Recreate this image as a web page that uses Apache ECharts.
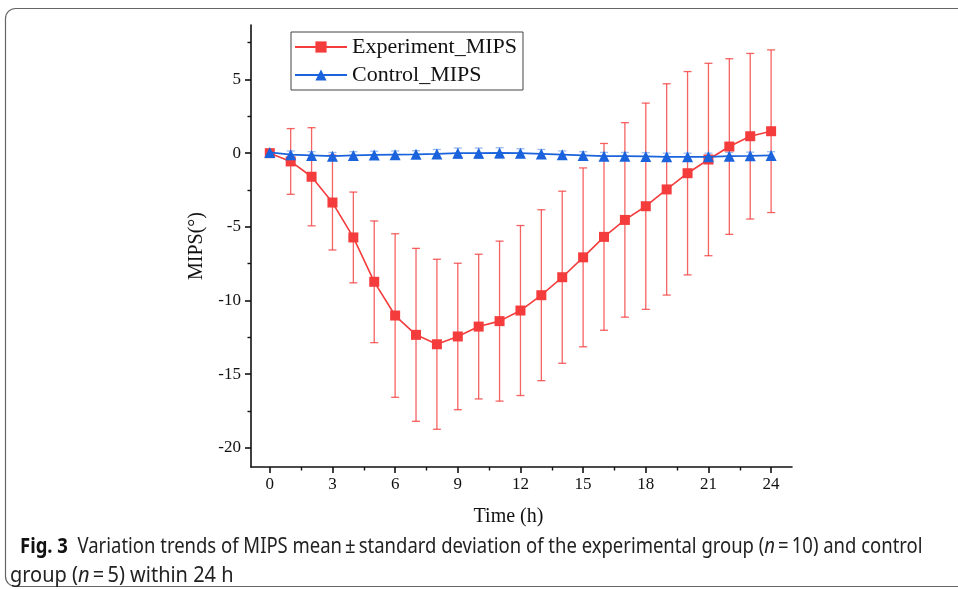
<!DOCTYPE html>
<html>
<head>
<meta charset="utf-8">
<script src="https://cdn.jsdelivr.net/npm/echarts@6/dist/echarts.min.js"></script>
<style>
  html, body { margin: 0; padding: 0; background: #fff; }
  #chart { width: 958px; height: 589px; }
</style>
</head>
<body>
<div id="chart"></div>
<script>
// hours 0..24
var hours = [0, 1, 2, 3, 4, 5, 6, 7, 8, 9, 10, 11, 12, 13, 14, 15, 16, 17, 18, 19, 20, 21, 22, 23, 24];

var expMean = [0.0, -0.56, -1.6, -3.35, -5.72, -8.73, -11.02, -12.33, -12.97, -12.44, -11.77, -11.4,
  -10.68, -9.64, -8.42, -7.07, -5.68, -4.53, -3.6, -2.46, -1.36, -0.43, 0.45, 1.15, 1.49];
var expSD = [0.25, 2.23, 3.33, 3.22, 3.08, 4.13, 5.55, 5.87, 5.77, 4.97, 4.91, 5.43,
  5.77, 5.8, 5.84, 6.07, 6.34, 6.6, 7.0, 7.17, 6.9, 6.53, 5.96, 5.62, 5.52];

var ctrlMean = [0.05, -0.1, -0.15, -0.2, -0.15, -0.12, -0.1, -0.08, -0.05, 0.0, 0.0, 0.02,
  0.0, -0.05, -0.1, -0.15, -0.2, -0.2, -0.22, -0.25, -0.25, -0.25, -0.2, -0.18, -0.15];
var ctrlSD = [0.2, 0.25, 0.25, 0.25, 0.25, 0.25, 0.25, 0.25, 0.3, 0.35, 0.35, 0.35,
  0.3, 0.3, 0.25, 0.25, 0.25, 0.25, 0.25, 0.25, 0.25, 0.25, 0.25, 0.25, 0.25];

var xMajor = [0, 3, 6, 9, 12, 15, 18, 21, 24];
var xMinor = [1.5, 4.5, 7.5, 10.5, 13.5, 16.5, 19.5, 22.5];
var yMajor = [-20, -15, -10, -5, 0, 5];
var yMinor = [-17.5, -12.5, -7.5, -2.5, 2.5, 7.5];

var RED = '#f43c3c';
var RED_BAR = 'rgba(244,60,60,0.8)';
var BLUE = '#1a63dc';
var BLUE_BAR = 'rgba(70,130,230,0.55)';
var SERIF = '"Liberation Serif", "Times New Roman", serif';
var SANS = '"Noto Sans", "Open Sans", sans-serif';

function pairs(m) { return hours.map(function (h, i) { return [h, m[i]]; }); }
function bars(m, s) { return hours.map(function (h, i) { return [h, m[i] - s[i], m[i] + s[i]]; }); }

function errorBar(color, capW) {
  return function (params, api) {
    var x = api.value(0);
    var lo = api.coord([x, api.value(1)]);
    var hi = api.coord([x, api.value(2)]);
    var st = { stroke: color, lineWidth: 1.3 };
    return {
      type: 'group',
      children: [
        { type: 'line', shape: { x1: hi[0], y1: hi[1], x2: lo[0], y2: lo[1] }, style: st },
        { type: 'line', shape: { x1: hi[0] - capW, y1: hi[1], x2: hi[0] + capW, y2: hi[1] }, style: st },
        { type: 'line', shape: { x1: lo[0] - capW, y1: lo[1], x2: lo[0] + capW, y2: lo[1] }, style: st }
      ]
    };
  };
}

var axisLine = { show: true, onZero: false, lineStyle: { color: '#111', width: 1.6 } };
var noLine = { show: false, onZero: false };
var xMin = -0.9, xMax = 25, yMin = -21.3, yMax = 8.7;

var chart = echarts.init(document.getElementById('chart'));
chart.setOption({
  animation: false,
  grid: { left: 251, right: 166, top: 25, bottom: 122 },
  legend: {
    data: ['Experiment_MIPS', 'Control_MIPS'],
    orient: 'vertical',
    left: 291, top: 32,
    padding: [4, 6, 4, 3],
    itemGap: 6,
    itemWidth: 52, itemHeight: 14,
    borderColor: '#444', borderWidth: 1, borderRadius: 0,
    textStyle: { fontFamily: SERIF, fontSize: 22, color: '#111' }
  },
  xAxis: [{
    type: 'value', min: xMin, max: xMax,
    name: 'Time (h)', nameLocation: 'middle', nameGap: 40,
    nameTextStyle: { fontFamily: SERIF, fontSize: 20, color: '#111', padding: [0, 26, 0, 0] },
    axisLine: axisLine,
    axisTick: { show: true, length: 6, lineStyle: { color: '#111', width: 1.6 }, customValues: xMajor },
    axisLabel: { fontFamily: SERIF, fontSize: 17, color: '#111', margin: 9, customValues: xMajor },
    splitLine: { show: false }
  }, {
    type: 'value', min: xMin, max: xMax, position: 'bottom',
    axisLine: noLine,
    axisTick: { show: true, length: 3.5, lineStyle: { color: '#111', width: 1.4 }, customValues: xMinor },
    axisLabel: { show: false },
    splitLine: { show: false }
  }],
  yAxis: [{
    type: 'value', min: yMin, max: yMax,
    name: 'MIPS(°)', nameLocation: 'middle', nameGap: 44,
    nameTextStyle: { fontFamily: SERIF, fontSize: 20, color: '#111' },
    axisLine: axisLine,
    axisTick: { show: true, length: 6, lineStyle: { color: '#111', width: 1.6 }, customValues: yMajor },
    axisLabel: { fontFamily: SERIF, fontSize: 17, color: '#111', margin: 10, customValues: yMajor },
    splitLine: { show: false }
  }, {
    type: 'value', min: yMin, max: yMax, position: 'left',
    axisLine: noLine,
    axisTick: { show: true, length: 3.5, lineStyle: { color: '#111', width: 1.4 }, customValues: yMinor },
    axisLabel: { show: false },
    splitLine: { show: false }
  }],
  series: [
    {
      type: 'custom', name: 'expErr', renderItem: errorBar(RED_BAR, 4),
      encode: { x: 0, y: [1, 2] }, data: bars(expMean, expSD), z: 1, silent: true
    },
    {
      type: 'custom', name: 'ctrlErr', renderItem: errorBar(BLUE_BAR, 4),
      encode: { x: 0, y: [1, 2] }, data: bars(ctrlMean, ctrlSD), z: 1, silent: true
    },
    {
      name: 'Experiment_MIPS', type: 'line', data: pairs(expMean),
      symbol: 'rect', symbolSize: 10,
      lineStyle: { color: RED, width: 1.6 },
      itemStyle: { color: RED }, z: 3
    },
    {
      name: 'Control_MIPS', type: 'line', data: pairs(ctrlMean),
      symbol: 'triangle', symbolSize: 11,
      lineStyle: { color: BLUE, width: 1.8 },
      itemStyle: { color: BLUE }, z: 4
    }
  ],
  graphic: [
    {
      type: 'rect', silent: true,
      shape: { x: 5.5, y: 8.5, width: 1000, height: 578, r: 10 },
      style: { fill: 'none', stroke: '#666', lineWidth: 1.2 }
    },
    {
      type: 'text', x: 20, y: 547, scaleX: 0.88, silent: true,
      style: {
        text: '{b|Fig. 3}  Variation trends of MIPS mean\u2009\u00b1\u2009standard deviation of the experimental group ({i|n}\u2009=\u200910) and control',
        fontFamily: SANS, fontSize: 21, fill: '#222', verticalAlign: 'middle',
        rich: {
          b: { fontWeight: 'bold', fontFamily: SANS, fontSize: 21, fill: '#111' },
          i: { fontStyle: 'italic', fontFamily: SANS, fontSize: 21, fill: '#222' }
        }
      }
    },
    {
      type: 'text', x: 10, y: 576, scaleX: 0.95, silent: true,
      style: {
        text: 'group ({i|n}\u2009=\u20095) within 24 h',
        fontFamily: SANS, fontSize: 21, fill: '#222', verticalAlign: 'middle',
        rich: {
          i: { fontStyle: 'italic', fontFamily: SANS, fontSize: 21, fill: '#222' }
        }
      }
    }
  ]
});
</script>
</body>
</html>
